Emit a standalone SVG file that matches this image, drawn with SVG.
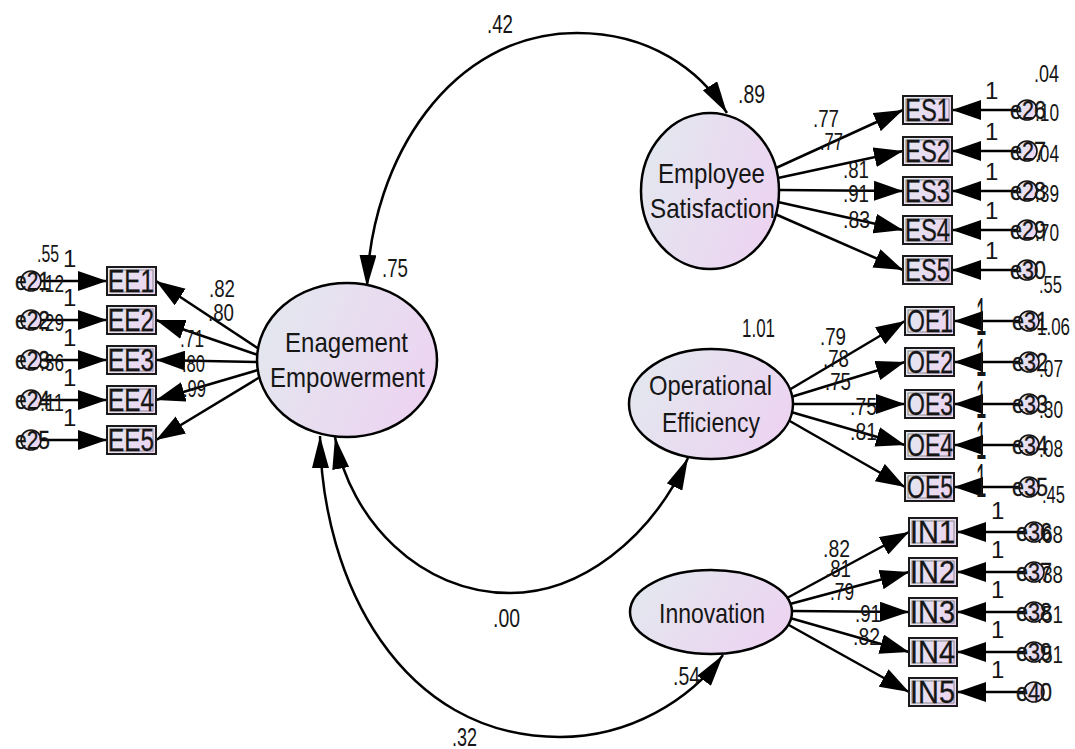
<svg xmlns="http://www.w3.org/2000/svg" width="1075" height="749" viewBox="0 0 1075 749">
<style>
text{font-family:"Liberation Sans",Arial,sans-serif;fill:#161616}
.lat{font-size:28px}
.box{font-size:31px;stroke:#161616;stroke-width:0.3}
.err{font-size:26px;stroke:#161616;stroke-width:0.3}
.lab{font-size:24px}
.one{font-size:22px}
.big{font-size:26px}
.ln{fill:none;stroke:#000;stroke-width:2.5}
.ov{fill:url(#g);stroke:#000;stroke-width:2.5}
.bx{fill:url(#g);stroke:#1a1a1a;stroke-width:2}
.bi{fill:none;stroke:#8a8a8a;stroke-width:1}
.ec{fill:url(#g);stroke:#111;stroke-width:1.6}
</style>
<defs>
<linearGradient id="g" x1="0" y1="0.3" x2="1" y2="0.7">
<stop offset="0" stop-color="#e3e7ef"/>
<stop offset="1" stop-color="#edd3f1"/>
</linearGradient>
<marker id="ah" viewBox="0 0 29 20" refX="29" refY="10" markerWidth="29" markerHeight="20" markerUnits="userSpaceOnUse" orient="auto-start-reverse">
<path d="M0,0 L29,10 L0,20 z" fill="#000"/>
</marker>
<marker id="ac" viewBox="0 0 32 17" refX="32" refY="8.5" markerWidth="32" markerHeight="17" markerUnits="userSpaceOnUse" orient="auto-start-reverse">
<path d="M0,0 L32,8.5 L0,17 z" fill="#000"/>
</marker>
</defs>
<rect width="1075" height="749" fill="#fff"/>

<g id="connectors">
<path class="ln" marker-start="url(#ac)" marker-end="url(#ac)" d="M367,287 C371,160 450,33 577,33 C650,33 700,70 727,113"/>
<path class="ln" marker-start="url(#ac)" marker-end="url(#ac)" d="M335,437 C350,520 420,593 510,593 C580,593 650,540 688,458"/>
<path class="ln" marker-start="url(#ac)" marker-end="url(#ac)" d="M320,436 C322,580 400,737 560,737 C630,737 690,700 723,655"/>
<path class="ln" marker-end="url(#ah)" d="M259,349 L156,281"/>
<path class="ln" marker-end="url(#ah)" d="M258,355 L156,320"/>
<path class="ln" marker-end="url(#ah)" d="M257,362 L156,360"/>
<path class="ln" marker-end="url(#ah)" d="M258,370 L156,400"/>
<path class="ln" marker-end="url(#ah)" d="M260,377 L156,440"/>
<path class="ln" marker-end="url(#ah)" d="M41,281 L107,281"/>
<path class="ln" marker-end="url(#ah)" d="M41,320 L107,320"/>
<path class="ln" marker-end="url(#ah)" d="M41,360 L107,360"/>
<path class="ln" marker-end="url(#ah)" d="M41,400 L107,400"/>
<path class="ln" marker-end="url(#ah)" d="M41,440 L107,440"/>
<path class="ln" marker-end="url(#ah)" d="M776,168 L903,110"/>
<path class="ln" marker-end="url(#ah)" d="M778,178 L903,151"/>
<path class="ln" marker-end="url(#ah)" d="M779,190 L903,191"/>
<path class="ln" marker-end="url(#ah)" d="M778,202 L903,230"/>
<path class="ln" marker-end="url(#ah)" d="M775,214 L903,270"/>
<path class="ln" marker-end="url(#ah)" d="M1017,110 L952,110"/>
<path class="ln" marker-end="url(#ah)" d="M1017,151 L952,151"/>
<path class="ln" marker-end="url(#ah)" d="M1017,191 L952,191"/>
<path class="ln" marker-end="url(#ah)" d="M1017,230 L952,230"/>
<path class="ln" marker-end="url(#ah)" d="M1017,270 L952,270"/>
<path class="ln" marker-end="url(#ah)" d="M789,390 L905,321"/>
<path class="ln" marker-end="url(#ah)" d="M791,397 L905,362"/>
<path class="ln" marker-end="url(#ah)" d="M793,404 L905,404"/>
<path class="ln" marker-end="url(#ah)" d="M791,412 L905,445"/>
<path class="ln" marker-end="url(#ah)" d="M788,420 L905,487"/>
<path class="ln" marker-end="url(#ah)" d="M1019,321 L954,321"/>
<path class="ln" marker-end="url(#ah)" d="M1019,362 L954,362"/>
<path class="ln" marker-end="url(#ah)" d="M1019,404 L954,404"/>
<path class="ln" marker-end="url(#ah)" d="M1019,445 L954,445"/>
<path class="ln" marker-end="url(#ah)" d="M1019,487 L954,487"/>
<path class="ln" marker-end="url(#ah)" d="M787,598 L909,532"/>
<path class="ln" marker-end="url(#ah)" d="M790,604 L909,572"/>
<path class="ln" marker-end="url(#ah)" d="M792,611 L909,612"/>
<path class="ln" marker-end="url(#ah)" d="M790,618 L909,652"/>
<path class="ln" marker-end="url(#ah)" d="M787,624 L909,692"/>
<path class="ln" marker-end="url(#ah)" d="M1024,532 L957,532"/>
<path class="ln" marker-end="url(#ah)" d="M1024,572 L957,572"/>
<path class="ln" marker-end="url(#ah)" d="M1024,612 L957,612"/>
<path class="ln" marker-end="url(#ah)" d="M1024,652 L957,652"/>
<path class="ln" marker-end="url(#ah)" d="M1024,692 L957,692"/>
</g>

<g id="latent-EE">
<ellipse class="ov" cx="347" cy="360" rx="90" ry="77"/>
<text class="lat" x="285" y="352" textLength="123" lengthAdjust="spacingAndGlyphs">Enagement</text>
<text class="lat" x="270" y="387" textLength="155" lengthAdjust="spacingAndGlyphs">Empowerment</text>
</g>
<g id="latent-ES">
<ellipse class="ov" cx="710" cy="191" rx="69" ry="78"/>
<text class="lat" x="658" y="183" textLength="107" lengthAdjust="spacingAndGlyphs">Employee</text>
<text class="lat" x="650" y="218" textLength="125" lengthAdjust="spacingAndGlyphs">Satisfaction</text>
</g>
<g id="latent-OE">
<ellipse class="ov" cx="711" cy="404" rx="82" ry="55"/>
<text class="lat" x="649" y="395" textLength="123" lengthAdjust="spacingAndGlyphs">Operational</text>
<text class="lat" x="662" y="432" textLength="98" lengthAdjust="spacingAndGlyphs">Efficiency</text>
</g>
<g id="latent-IN">
<ellipse class="ov" cx="711" cy="612" rx="81" ry="42"/>
<text class="lat" x="659" y="623" textLength="106" lengthAdjust="spacingAndGlyphs">Innovation</text>
</g>

<g id="EE1"><rect class="bx" x="107" y="267" width="49" height="28"/><rect class="bi" x="110" y="270" width="43" height="22"/><text class="box" x="108" y="292" textLength="46" lengthAdjust="spacingAndGlyphs">EE1</text></g>
<g id="EE2"><rect class="bx" x="107" y="306" width="49" height="28"/><rect class="bi" x="110" y="309" width="43" height="22"/><text class="box" x="108" y="331" textLength="46" lengthAdjust="spacingAndGlyphs">EE2</text></g>
<g id="EE3"><rect class="bx" x="107" y="346" width="49" height="28"/><rect class="bi" x="110" y="349" width="43" height="22"/><text class="box" x="108" y="371" textLength="46" lengthAdjust="spacingAndGlyphs">EE3</text></g>
<g id="EE4"><rect class="bx" x="107" y="386" width="49" height="28"/><rect class="bi" x="110" y="389" width="43" height="22"/><text class="box" x="108" y="411" textLength="46" lengthAdjust="spacingAndGlyphs">EE4</text></g>
<g id="EE5"><rect class="bx" x="107" y="426" width="49" height="28"/><rect class="bi" x="110" y="429" width="43" height="22"/><text class="box" x="108" y="451" textLength="46" lengthAdjust="spacingAndGlyphs">EE5</text></g>

<g id="ES1"><rect class="bx" x="903" y="96" width="49" height="28"/><rect class="bi" x="906" y="99" width="43" height="22"/><text class="box" x="905" y="121" textLength="45" lengthAdjust="spacingAndGlyphs">ES1</text></g>
<g id="ES2"><rect class="bx" x="903" y="137" width="49" height="28"/><rect class="bi" x="906" y="140" width="43" height="22"/><text class="box" x="905" y="162" textLength="45" lengthAdjust="spacingAndGlyphs">ES2</text></g>
<g id="ES3"><rect class="bx" x="903" y="177" width="49" height="28"/><rect class="bi" x="906" y="180" width="43" height="22"/><text class="box" x="905" y="202" textLength="45" lengthAdjust="spacingAndGlyphs">ES3</text></g>
<g id="ES4"><rect class="bx" x="903" y="216" width="49" height="28"/><rect class="bi" x="906" y="219" width="43" height="22"/><text class="box" x="905" y="241" textLength="45" lengthAdjust="spacingAndGlyphs">ES4</text></g>
<g id="ES5"><rect class="bx" x="903" y="256" width="49" height="28"/><rect class="bi" x="906" y="259" width="43" height="22"/><text class="box" x="905" y="281" textLength="45" lengthAdjust="spacingAndGlyphs">ES5</text></g>

<g id="OE1"><rect class="bx" x="905" y="307" width="49" height="28"/><rect class="bi" x="908" y="310" width="43" height="22"/><text class="box" x="907" y="332" textLength="46" lengthAdjust="spacingAndGlyphs">OE1</text></g>
<g id="OE2"><rect class="bx" x="905" y="348" width="49" height="28"/><rect class="bi" x="908" y="351" width="43" height="22"/><text class="box" x="907" y="373" textLength="46" lengthAdjust="spacingAndGlyphs">OE2</text></g>
<g id="OE3"><rect class="bx" x="905" y="390" width="49" height="28"/><rect class="bi" x="908" y="393" width="43" height="22"/><text class="box" x="907" y="415" textLength="46" lengthAdjust="spacingAndGlyphs">OE3</text></g>
<g id="OE4"><rect class="bx" x="905" y="431" width="49" height="28"/><rect class="bi" x="908" y="434" width="43" height="22"/><text class="box" x="907" y="456" textLength="46" lengthAdjust="spacingAndGlyphs">OE4</text></g>
<g id="OE5"><rect class="bx" x="905" y="473" width="49" height="28"/><rect class="bi" x="908" y="476" width="43" height="22"/><text class="box" x="907" y="498" textLength="46" lengthAdjust="spacingAndGlyphs">OE5</text></g>

<g id="IN1"><rect class="bx" x="909" y="518" width="48" height="28"/><rect class="bi" x="912" y="521" width="42" height="22"/><text class="box" x="910" y="543" textLength="45" lengthAdjust="spacingAndGlyphs">IN1</text></g>
<g id="IN2"><rect class="bx" x="909" y="558" width="48" height="28"/><rect class="bi" x="912" y="561" width="42" height="22"/><text class="box" x="910" y="583" textLength="45" lengthAdjust="spacingAndGlyphs">IN2</text></g>
<g id="IN3"><rect class="bx" x="909" y="598" width="48" height="28"/><rect class="bi" x="912" y="601" width="42" height="22"/><text class="box" x="910" y="623" textLength="45" lengthAdjust="spacingAndGlyphs">IN3</text></g>
<g id="IN4"><rect class="bx" x="909" y="638" width="48" height="28"/><rect class="bi" x="912" y="641" width="42" height="22"/><text class="box" x="910" y="663" textLength="45" lengthAdjust="spacingAndGlyphs">IN4</text></g>
<g id="IN5"><rect class="bx" x="909" y="678" width="48" height="28"/><rect class="bi" x="912" y="681" width="42" height="22"/><text class="box" x="910" y="703" textLength="45" lengthAdjust="spacingAndGlyphs">IN5</text></g>

<g id="e21"><circle class="ec" cx="31" cy="281" r="10"/><text class="err" x="15" y="290" textLength="35" lengthAdjust="spacingAndGlyphs">e21</text></g>
<g id="e22"><circle class="ec" cx="31" cy="320" r="10"/><text class="err" x="15" y="329" textLength="35" lengthAdjust="spacingAndGlyphs">e22</text></g>
<g id="e23"><circle class="ec" cx="31" cy="360" r="10"/><text class="err" x="15" y="369" textLength="35" lengthAdjust="spacingAndGlyphs">e23</text></g>
<g id="e24"><circle class="ec" cx="31" cy="400" r="10"/><text class="err" x="15" y="409" textLength="35" lengthAdjust="spacingAndGlyphs">e24</text></g>
<g id="e25"><circle class="ec" cx="31" cy="440" r="10"/><text class="err" x="15" y="449" textLength="35" lengthAdjust="spacingAndGlyphs">e25</text></g>

<g id="e26"><circle class="ec" cx="1027" cy="110" r="10"/><text class="err" x="1010" y="119" textLength="36" lengthAdjust="spacingAndGlyphs">e26</text></g>
<g id="e27"><circle class="ec" cx="1027" cy="151" r="10"/><text class="err" x="1010" y="160" textLength="36" lengthAdjust="spacingAndGlyphs">e27</text></g>
<g id="e28"><circle class="ec" cx="1027" cy="191" r="10"/><text class="err" x="1010" y="200" textLength="36" lengthAdjust="spacingAndGlyphs">e28</text></g>
<g id="e29"><circle class="ec" cx="1027" cy="230" r="10"/><text class="err" x="1010" y="239" textLength="36" lengthAdjust="spacingAndGlyphs">e29</text></g>
<g id="e30"><circle class="ec" cx="1027" cy="270" r="10"/><text class="err" x="1010" y="279" textLength="36" lengthAdjust="spacingAndGlyphs">e30</text></g>

<g id="e31"><circle class="ec" cx="1029" cy="321" r="10"/><text class="err" x="1012" y="330" textLength="36" lengthAdjust="spacingAndGlyphs">e31</text></g>
<g id="e32"><circle class="ec" cx="1029" cy="362" r="10"/><text class="err" x="1012" y="371" textLength="36" lengthAdjust="spacingAndGlyphs">e32</text></g>
<g id="e33"><circle class="ec" cx="1029" cy="404" r="10"/><text class="err" x="1012" y="413" textLength="36" lengthAdjust="spacingAndGlyphs">e33</text></g>
<g id="e34"><circle class="ec" cx="1029" cy="445" r="10"/><text class="err" x="1012" y="454" textLength="36" lengthAdjust="spacingAndGlyphs">e34</text></g>
<g id="e35"><circle class="ec" cx="1029" cy="487" r="10"/><text class="err" x="1012" y="496" textLength="36" lengthAdjust="spacingAndGlyphs">e35</text></g>

<g id="e36"><circle class="ec" cx="1034" cy="532" r="10"/><text class="err" x="1016" y="541" textLength="36" lengthAdjust="spacingAndGlyphs">e36</text></g>
<g id="e37"><circle class="ec" cx="1034" cy="572" r="10"/><text class="err" x="1016" y="581" textLength="36" lengthAdjust="spacingAndGlyphs">e37</text></g>
<g id="e38"><circle class="ec" cx="1034" cy="612" r="10"/><text class="err" x="1016" y="621" textLength="36" lengthAdjust="spacingAndGlyphs">e38</text></g>
<g id="e39"><circle class="ec" cx="1034" cy="652" r="10"/><text class="err" x="1016" y="661" textLength="36" lengthAdjust="spacingAndGlyphs">e39</text></g>
<g id="e40"><circle class="ec" cx="1034" cy="692" r="10"/><text class="err" x="1016" y="701" textLength="36" lengthAdjust="spacingAndGlyphs">e40</text></g>

<g id="labels">
<text class="big" x="487" y="33" textLength="26" lengthAdjust="spacingAndGlyphs">.42</text>
<text class="big" x="738" y="103" textLength="27" lengthAdjust="spacingAndGlyphs">.89</text>
<text class="big" x="382" y="277" textLength="26" lengthAdjust="spacingAndGlyphs">.75</text>
<text class="big" x="742" y="337" textLength="33" lengthAdjust="spacingAndGlyphs">1.01</text>
<text class="big" x="493" y="627" textLength="27" lengthAdjust="spacingAndGlyphs">.00</text>
<text class="big" x="673" y="685" textLength="27" lengthAdjust="spacingAndGlyphs">.54</text>
<text class="big" x="452" y="746" textLength="25" lengthAdjust="spacingAndGlyphs">.32</text>

<text class="lab" x="209" y="297" textLength="26" lengthAdjust="spacingAndGlyphs">.82</text>
<text class="lab" x="208" y="321" textLength="26" lengthAdjust="spacingAndGlyphs">.80</text>
<text class="lab" x="180" y="347" textLength="24" lengthAdjust="spacingAndGlyphs">.71</text>
<text class="lab" x="182" y="372" textLength="23" lengthAdjust="spacingAndGlyphs">.80</text>
<text class="lab" x="183" y="397" textLength="23" lengthAdjust="spacingAndGlyphs">.99</text>

<text class="lab" x="37" y="262" textLength="22" lengthAdjust="spacingAndGlyphs">.55</text>
<text class="lab" x="40" y="292" textLength="24" lengthAdjust="spacingAndGlyphs">.12</text>
<text class="lab" x="40" y="331" textLength="24" lengthAdjust="spacingAndGlyphs">.29</text>
<text class="lab" x="40" y="371" textLength="24" lengthAdjust="spacingAndGlyphs">.36</text>
<text class="lab" x="40" y="411" textLength="24" lengthAdjust="spacingAndGlyphs">.11</text>
<text class="lab" x="63" y="267">1</text>
<text class="lab" x="63" y="306">1</text>
<text class="lab" x="63" y="346">1</text>
<text class="lab" x="63" y="386">1</text>
<text class="lab" x="63" y="426">1</text>

<text class="lab" x="813" y="127" textLength="26" lengthAdjust="spacingAndGlyphs">.77</text>
<text class="lab" x="820" y="150" textLength="23" lengthAdjust="spacingAndGlyphs">.77</text>
<text class="lab" x="843" y="178" textLength="26" lengthAdjust="spacingAndGlyphs">.81</text>
<text class="lab" x="843" y="202" textLength="26" lengthAdjust="spacingAndGlyphs">.91</text>
<text class="lab" x="843" y="228" textLength="27" lengthAdjust="spacingAndGlyphs">.83</text>
<text class="lab" x="1034" y="82" textLength="25" lengthAdjust="spacingAndGlyphs">.04</text>
<text class="lab" x="1035" y="121" textLength="24" lengthAdjust="spacingAndGlyphs">.10</text>
<text class="lab" x="1035" y="162" textLength="24" lengthAdjust="spacingAndGlyphs">.04</text>
<text class="lab" x="1035" y="202" textLength="24" lengthAdjust="spacingAndGlyphs">.39</text>
<text class="lab" x="1035" y="241" textLength="24" lengthAdjust="spacingAndGlyphs">.70</text>
<text class="lab" x="1039" y="293" textLength="23" lengthAdjust="spacingAndGlyphs">.55</text>
<text class="lab" x="985" y="99">1</text>
<text class="lab" x="985" y="140">1</text>
<text class="lab" x="985" y="180">1</text>
<text class="lab" x="985" y="219">1</text>
<text class="lab" x="985" y="259">1</text>

<text class="lab" x="820" y="345" textLength="26" lengthAdjust="spacingAndGlyphs">.79</text>
<text class="lab" x="823" y="367" textLength="26" lengthAdjust="spacingAndGlyphs">.78</text>
<text class="lab" x="825" y="390" textLength="26" lengthAdjust="spacingAndGlyphs">.75</text>
<text class="lab" x="850" y="415" textLength="27" lengthAdjust="spacingAndGlyphs">.75</text>
<text class="lab" x="850" y="440" textLength="27" lengthAdjust="spacingAndGlyphs">.81</text>
<text class="lab" x="1037" y="335" textLength="33" lengthAdjust="spacingAndGlyphs">1.06</text>
<text class="lab" x="1039" y="377" textLength="24" lengthAdjust="spacingAndGlyphs">.07</text>
<text class="lab" x="1039" y="418" textLength="24" lengthAdjust="spacingAndGlyphs">.30</text>
<text class="lab" x="1039" y="457" textLength="24" lengthAdjust="spacingAndGlyphs">.08</text>
<text class="lab" x="1042" y="503" textLength="23" lengthAdjust="spacingAndGlyphs">.45</text>
<text class="one" transform="translate(976,335) scale(0.85,2.4)">1</text>
<text class="one" transform="translate(976,376) scale(0.85,2.4)">1</text>
<text class="one" transform="translate(976,418) scale(0.85,2.4)">1</text>
<text class="one" transform="translate(976,459) scale(0.85,2.4)">1</text>
<text class="one" transform="translate(976,497) scale(0.85,2.2)">1</text>

<text class="lab" x="823" y="557" textLength="27" lengthAdjust="spacingAndGlyphs">.82</text>
<text class="lab" x="825" y="577" textLength="26" lengthAdjust="spacingAndGlyphs">.81</text>
<text class="lab" x="830" y="600" textLength="24" lengthAdjust="spacingAndGlyphs">.79</text>
<text class="lab" x="855" y="622" textLength="26" lengthAdjust="spacingAndGlyphs">.91</text>
<text class="lab" x="853" y="645" textLength="27" lengthAdjust="spacingAndGlyphs">.82</text>
<text class="lab" x="1037" y="543" textLength="26" lengthAdjust="spacingAndGlyphs">.68</text>
<text class="lab" x="1037" y="583" textLength="26" lengthAdjust="spacingAndGlyphs">.38</text>
<text class="lab" x="1037" y="623" textLength="26" lengthAdjust="spacingAndGlyphs">.51</text>
<text class="lab" x="1037" y="663" textLength="26" lengthAdjust="spacingAndGlyphs">.51</text>
<text class="lab" x="991" y="519">1</text>
<text class="lab" x="991" y="558">1</text>
<text class="lab" x="991" y="598">1</text>
<text class="lab" x="991" y="638">1</text>
<text class="lab" x="991" y="678">1</text>
</g>
</svg>
